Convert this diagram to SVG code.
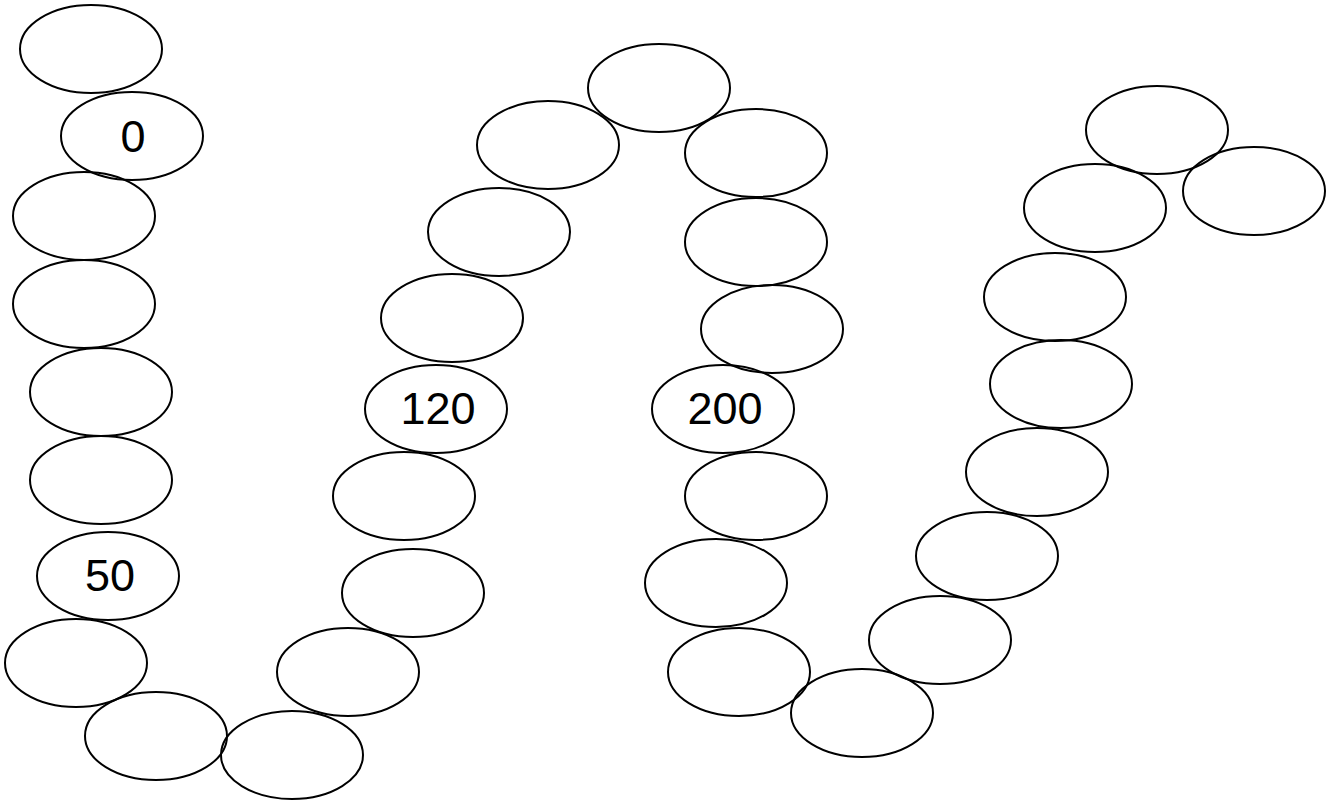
<svg xmlns="http://www.w3.org/2000/svg" width="1337" height="805" viewBox="0 0 1337 805">
<style>
ellipse{fill:none;stroke:#000;stroke-width:2}
text{font-family:"Liberation Sans",Arial,sans-serif;font-size:45px;text-anchor:middle;fill:#000}
</style>
<rect width="1337" height="805" fill="#fff"/>
<g id="connectors"></g>
<g id="n1"><ellipse cx="91" cy="49" rx="71" ry="44"/></g>
<g id="n2"><ellipse cx="132" cy="136" rx="71" ry="44"/><text x="133" y="152">0</text></g>
<g id="n3"><ellipse cx="84" cy="216" rx="71" ry="44"/></g>
<g id="n4"><ellipse cx="84" cy="304" rx="71" ry="44"/></g>
<g id="n5"><ellipse cx="101" cy="392" rx="71" ry="44"/></g>
<g id="n6"><ellipse cx="101" cy="480" rx="71" ry="44"/></g>
<g id="n7"><ellipse cx="108" cy="576" rx="71" ry="44"/><text x="110" y="591">50</text></g>
<g id="n8"><ellipse cx="76" cy="663" rx="71" ry="44"/></g>
<g id="n9"><ellipse cx="156" cy="736" rx="71" ry="44"/></g>
<g id="n10"><ellipse cx="292" cy="755" rx="71" ry="44"/></g>
<g id="n11"><ellipse cx="348" cy="672" rx="71" ry="44"/></g>
<g id="n12"><ellipse cx="413" cy="593" rx="71" ry="44"/></g>
<g id="n13"><ellipse cx="404" cy="496" rx="71" ry="44"/></g>
<g id="n14"><ellipse cx="436" cy="409" rx="71" ry="44"/><text x="438" y="424">120</text></g>
<g id="n15"><ellipse cx="452" cy="318" rx="71" ry="44"/></g>
<g id="n16"><ellipse cx="499" cy="232" rx="71" ry="44"/></g>
<g id="n17"><ellipse cx="548" cy="145" rx="71" ry="44"/></g>
<g id="n18"><ellipse cx="659" cy="88" rx="71" ry="44"/></g>
<g id="n19"><ellipse cx="756" cy="153" rx="71" ry="44"/></g>
<g id="n20"><ellipse cx="756" cy="242" rx="71" ry="44"/></g>
<g id="n21"><ellipse cx="772" cy="329" rx="71" ry="44"/></g>
<g id="n22"><ellipse cx="723" cy="409" rx="71" ry="44"/><text x="725" y="424">200</text></g>
<g id="n23"><ellipse cx="756" cy="496" rx="71" ry="44"/></g>
<g id="n24"><ellipse cx="716" cy="583" rx="71" ry="44"/></g>
<g id="n25"><ellipse cx="739" cy="672" rx="71" ry="44"/></g>
<g id="n26"><ellipse cx="862" cy="713" rx="71" ry="44"/></g>
<g id="n27"><ellipse cx="940" cy="640" rx="71" ry="44"/></g>
<g id="n28"><ellipse cx="987" cy="556" rx="71" ry="44"/></g>
<g id="n29"><ellipse cx="1037" cy="472" rx="71" ry="44"/></g>
<g id="n30"><ellipse cx="1061" cy="384" rx="71" ry="44"/></g>
<g id="n31"><ellipse cx="1055" cy="297" rx="71" ry="44"/></g>
<g id="n32"><ellipse cx="1095" cy="208" rx="71" ry="44"/></g>
<g id="n33"><ellipse cx="1157" cy="130" rx="71" ry="44"/></g>
<g id="n34"><ellipse cx="1254" cy="191" rx="71" ry="44"/></g>
</svg>
